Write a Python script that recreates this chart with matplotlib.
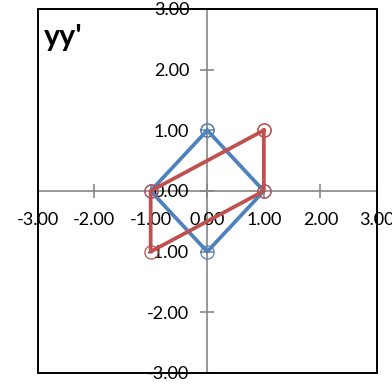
import matplotlib
matplotlib.use('Agg')
import matplotlib.pyplot as plt
from matplotlib.patches import Rectangle
from matplotlib.ticker import FormatStrFormatter

# original shape (closed loop) and its transformed copy
orig_x = [0, 1, 0, -1, 0]
orig_y = [1, 0, -1, 0, 1]
trans_x = [1, 1, -1, -1, 1]
trans_y = [1, 0, -1, 0, 1]
ticks = [-3, -2, -1, 0, 1, 2, 3]

blue = '#4F81BD'
red = '#C0504D'
axis_grey = '#868686'

plt.rcParams['font.family'] = ['Lato', 'DejaVu Sans']

fig = plt.figure(figsize=(3.92, 3.85), dpi=100)
ax = fig.add_axes([0.0957, 0.0312, 0.866, 0.9455])

ax.plot(orig_x, orig_y, color=blue, lw=2.7, marker='o', ms=9.5,
        mfc='none', mec=blue, mew=0.9, zorder=3)
ax.plot(trans_x, trans_y, color=red, lw=2.7, marker='o', ms=9.5,
        mfc='none', mec=red, mew=0.9, zorder=4)

ax.set_xlim(-3, 3)
ax.set_ylim(-3, 3)

# axes cross at the origin, Excel style
ax.spines['left'].set_position(('data', 0))
ax.spines['bottom'].set_position(('data', 0))
for s in ['left', 'bottom']:
    ax.spines[s].set_color(axis_grey)
    ax.spines[s].set_linewidth(1.2)
    ax.spines[s].set_zorder(1)
ax.spines['top'].set_visible(False)
ax.spines['right'].set_visible(False)

ax.set_xticks(ticks)
ax.set_yticks(ticks)
ax.xaxis.set_major_formatter(FormatStrFormatter('%.2f'))
ax.yaxis.set_major_formatter(FormatStrFormatter('%.2f'))
ax.tick_params(axis='both', direction='inout', length=10, width=1.2,
               color=axis_grey, labelsize=13, labelcolor='black')
ax.tick_params(axis='y', pad=8)
ax.tick_params(axis='x', pad=10)
for lbl in ax.get_xticklabels() + ax.get_yticklabels():
    lbl.set_zorder(5)

# outer frame of the plot area
ax.add_patch(Rectangle((0, 0), 1, 1, transform=ax.transAxes, fill=False,
                       edgecolor='black', lw=1.4, clip_on=False, zorder=6))

fig.text(44 / 392, 1 - 23 / 385, "yy'", fontsize=22, fontweight='bold',
         ha='left', va='top')

plt.savefig('out.png', dpi=100)
